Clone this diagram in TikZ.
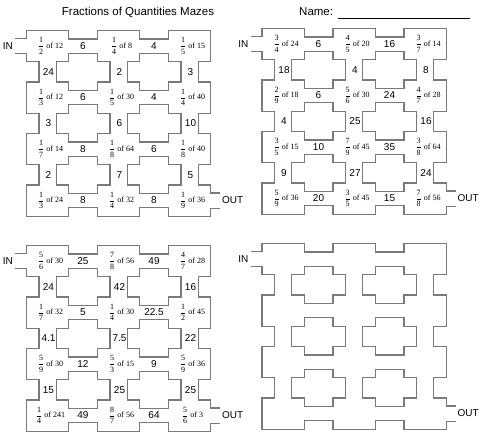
\documentclass[tikz,border=0pt]{standalone}
\usepackage{amsmath}
\usepackage{fontspec}
\setmainfont{Liberation Serif}
\newfontfamily\arialfont{Liberation Sans}

% maze sizes, in px
\def\px{71}    % column pitch
\def\py{51.5}  % row pitch
\def\rw{20.5}  % room half width
\def\rh{15}    % room half height
\def\hc{6.5}   % half height of a corridor across
\def\vc{8}     % half width of a corridor down
\def\sc{7}     % half height of the IN / OUT stubs

\newcommand{\fr}[2]{$\dfrac{\mbox{#1}}{\mbox{#2}}$}

% walls of one maze, room (0,0) centred at (#1,#2)
\newcommand{\mazewalls}[2]{%
  \begin{scope}[shift={(#1,#2)}]
    % thick strokes first, the white floor then hides their inner half
    \foreach \col in {0,1,2}
      \foreach \row in {0,...,3}
        \draw[wall] (\col*\px-\rw,\row*\py-\rh) rectangle (\col*\px+\rw,\row*\py+\rh);
    \foreach \col in {0,1}
      \foreach \row in {0,...,3}
        \draw[wall] (\col*\px,\row*\py-\hc) rectangle (\col*\px+\px,\row*\py+\hc);
    \foreach \col in {0,1,2}
      \foreach \row in {0,1,2}
        \draw[wall] (\col*\px-\vc,\row*\py) rectangle (\col*\px+\vc,\row*\py+\py);
    \draw[wall] (-\rw-12,-\sc) -- (0,-\sc) (-\rw-12,\sc) -- (0,\sc);
    \draw[wall] (2*\px,3*\py-\sc) -- (2*\px+\rw+10,3*\py-\sc)
                (2*\px,3*\py+\sc) -- (2*\px+\rw+10,3*\py+\sc);
    % floor
    \foreach \col in {0,1,2}
      \foreach \row in {0,...,3}
        \path[floor] (\col*\px-\rw,\row*\py-\rh) rectangle (\col*\px+\rw,\row*\py+\rh);
    \foreach \col in {0,1}
      \foreach \row in {0,...,3}
        \path[floor] (\col*\px,\row*\py-\hc) rectangle (\col*\px+\px,\row*\py+\hc);
    \foreach \col in {0,1,2}
      \foreach \row in {0,1,2}
        \path[floor] (\col*\px-\vc,\row*\py) rectangle (\col*\px+\vc,\row*\py+\py);
    \path[floor] (-\rw-12,-\sc) rectangle (0,\sc);
    \path[floor] (2*\px,3*\py-\sc) rectangle (2*\px+\rw+10,3*\py+\sc);
  \end{scope}}

\begin{document}
\begin{tikzpicture}[
    x=1pt, y=-1pt,
    wall/.style={draw=black!52, line width=2.2pt, line join=miter},
    floor/.style={fill=white, draw=none},
    room/.style={font=\fontsize{8}{9}\selectfont, inner sep=0pt},
    num/.style={font=\arialfont\fontsize{10}{11}\selectfont, inner sep=0pt},
    door/.style={font=\arialfont\fontsize{10}{11}\selectfont, inner sep=0pt},
    title/.style={font=\arialfont\fontsize{11.5}{13}\selectfont, inner sep=0pt}
    ]

    \path[use as bounding box, fill=white] (0,0) rectangle (500,432);

    % Heading
    \node[title] (title) at (138,12) {Fractions of Quantities Mazes};
    \node[title, anchor=west] (name) at (299,12) {Name:};
    \coordinate (blank end) at (470,18);
    \draw[line width=0.9pt] (name.east |- blank end) ++(5,0) -- (blank end);

    % Walls
    \mazewalls{47.5}{46}
    \mazewalls{283}{44}
    \mazewalls{47.5}{261}
    \mazewalls{283}{259}

    % Top left maze
    \begin{scope}[shift={(47.5,46)}]
      \foreach \col/\row/\numer/\denom/\whole in {0/0/1/2/12, 1/0/1/4/8, 2/0/1/5/15,
          0/1/1/3/12, 1/1/1/5/30, 2/1/1/4/40, 0/2/1/7/14, 1/2/1/8/64, 2/2/1/8/40,
          0/3/1/3/24, 1/3/1/4/32, 2/3/1/9/36}
        \node[room] (tl-\col-\row) at (\col*\px+3,\row*\py) {\fr{\numer}{\denom} of \whole};
      \foreach \col/\row/\val in {0/0/6, 1/0/4, 0/1/6, 1/1/4, 0/2/8, 1/2/6, 0/3/8, 1/3/8}
        \node[num] (tl-h-\col-\row) at ({(\col+0.5)*\px},\row*\py) {\val};
      \foreach \col/\row/\val in {0/0/24, 0/1/3, 0/2/2, 1/0/2, 1/1/6, 1/2/7, 2/0/3, 2/1/10, 2/2/5}
        \node[num] (tl-v-\col-\row) at (\col*\px+1,{(\row+0.5)*\py}) {\val};
      \node[door, anchor=east] (tl-in) at (-\rw-14,0) {IN};
      \node[door, anchor=west] (tl-out) at (2*\px+\rw+12,3*\py) {OUT};
    \end{scope}

    % Top right maze
    \begin{scope}[shift={(283,44)}]
      \foreach \col/\row/\numer/\denom/\whole in {0/0/3/4/24, 1/0/4/5/20, 2/0/3/7/14,
          0/1/2/9/18, 1/1/5/6/30, 2/1/4/7/28, 0/2/3/5/15, 1/2/7/9/45, 2/2/3/8/64,
          0/3/5/9/36, 1/3/3/5/45, 2/3/7/8/56}
        \node[room] (tr-\col-\row) at (\col*\px+3,\row*\py) {\fr{\numer}{\denom} of \whole};
      \foreach \col/\row/\val in {0/0/6, 1/0/16, 0/1/6, 1/1/24, 0/2/10, 1/2/35, 0/3/20, 1/3/15}
        \node[num] (tr-h-\col-\row) at ({(\col+0.5)*\px},\row*\py) {\val};
      \foreach \col/\row/\val in {0/0/18, 0/1/4, 0/2/9, 1/0/4, 1/1/25, 1/2/27, 2/0/8, 2/1/16, 2/2/24}
        \node[num] (tr-v-\col-\row) at (\col*\px+1,{(\row+0.5)*\py}) {\val};
      \node[door, anchor=east] (tr-in) at (-\rw-14,0) {IN};
      \node[door, anchor=west] (tr-out) at (2*\px+\rw+12,3*\py) {OUT};
    \end{scope}

    % Bottom left maze
    \begin{scope}[shift={(47.5,261)}]
      \foreach \col/\row/\numer/\denom/\whole in {0/0/5/6/30, 1/0/7/8/56, 2/0/4/7/28,
          0/1/1/7/32, 1/1/1/4/30, 2/1/1/2/45, 0/2/5/9/30, 1/2/5/3/15, 2/2/5/9/36,
          0/3/1/4/241, 1/3/8/7/56, 2/3/5/6/3}
        \node[room] (bl-\col-\row) at (\col*\px+3,\row*\py) {\fr{\numer}{\denom} of \whole};
      \foreach \col/\row/\val in {0/0/25, 1/0/49, 0/1/5, 1/1/22.5, 0/2/12, 1/2/9, 0/3/49, 1/3/64}
        \node[num] (bl-h-\col-\row) at ({(\col+0.5)*\px},\row*\py) {\val};
      \foreach \col/\row/\val in {0/0/24, 0/1/4.1, 0/2/15, 1/0/42, 1/1/7.5, 1/2/25, 2/0/16, 2/1/22, 2/2/25}
        \node[num] (bl-v-\col-\row) at (\col*\px+1,{(\row+0.5)*\py}) {\val};
      \node[door, anchor=east] (bl-in) at (-\rw-14,0) {IN};
      \node[door, anchor=west] (bl-out) at (2*\px+\rw+12,3*\py) {OUT};
    \end{scope}

    % Bottom right maze, left blank
    \begin{scope}[shift={(283,259)}]
      \node[door, anchor=east] (br-in) at (-\rw-14,0) {IN};
      \node[door, anchor=west] (br-out) at (2*\px+\rw+12,3*\py) {OUT};
    \end{scope}

\end{tikzpicture}
\end{document}
